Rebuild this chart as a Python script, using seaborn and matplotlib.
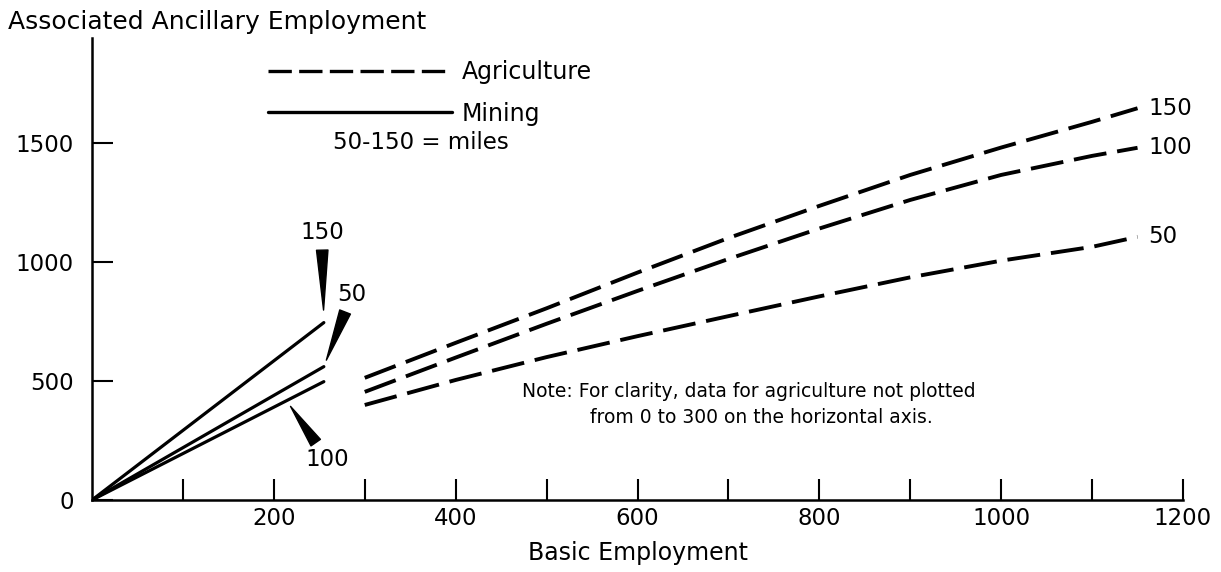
import numpy as np
import pandas as pd
import matplotlib
matplotlib.use("Agg")
import matplotlib.pyplot as plt
from matplotlib.lines import Line2D
import seaborn as sns

# mining: straight runs out of the origin
mine_x = [0, 255]
mine_50 = [0, 560]
mine_100 = [0, 497]
mine_150 = [0, 745]

# agriculture: not plotted below 300
agri_x = [300, 400, 500, 600, 700, 800, 900, 1000, 1100, 1150]
agri_50 = [399, 504, 600, 688, 772, 855, 935, 1005, 1063, 1105]
agri_100 = [454, 598, 740, 878, 1012, 1140, 1260, 1365, 1445, 1479]
agri_150 = [513, 660, 805, 955, 1100, 1235, 1365, 1480, 1588, 1645]

miles = ["50", "100", "150"]
x_ticks = list(range(100, 1300, 100))
x_labels = [str(t) if t % 200 == 0 else "" for t in x_ticks]
y_ticks = [0, 500, 1000, 1500]

rows = []
for m, ys in zip(miles, [mine_50, mine_100, mine_150]):
    for x, y in zip(mine_x, ys):
        rows.append(("Mining", m, x, y))
for m, ys in zip(miles, [agri_50, agri_100, agri_150]):
    for x, y in zip(agri_x, ys):
        rows.append(("Agriculture", m, x, y))
df = pd.DataFrame(rows, columns=["sector", "miles", "basic", "ancillary"])

sns.set_theme(style="white")
plt.rcParams["font.family"] = ["DejaVu Sans"]
plt.rcParams["text.color"] = "black"

fig = plt.figure(figsize=(12.21, 5.72), dpi=100)
ax = fig.add_axes([92 / 1221, 72 / 572, 1091 / 1221, 462 / 572])

sns.lineplot(data=df[df.sector == "Mining"], x="basic", y="ancillary", units="miles",
             estimator=None, color="black", lw=2.3, legend=False, ax=ax)
sns.lineplot(data=df[df.sector == "Agriculture"], x="basic", y="ancillary", units="miles",
             estimator=None, color="black", lw=2.8, linestyle=(0, (8.5, 2.8)),
             legend=False, ax=ax)

ax.set_xlim(0, 1200)
ax.set_ylim(0, 1940)
ax.set_xticks(x_ticks)
ax.set_xticklabels(x_labels)
ax.set_yticks(y_ticks)
ax.set_yticklabels([str(t) for t in y_ticks])
ax.tick_params(axis="both", direction="in", length=15, width=1.5, color="black",
               labelsize=16.5, labelcolor="black", bottom=True, left=True)
ax.tick_params(axis="x", pad=5)
ax.tick_params(axis="y", pad=13)
for s in ["top", "right"]:
    ax.spines[s].set_visible(False)
for s in ["left", "bottom"]:
    ax.spines[s].set_color("black")
    ax.spines[s].set_linewidth(1.8)
ax.set_xlabel("Basic Employment", fontsize=17, color="black", labelpad=8)
ax.set_ylabel("")

fig.text(8 / 1221, 1 - 22 / 572, "Associated Ancillary Employment", ha="left", va="center",
         fontsize=18, color="black")

# end labels on the agriculture curves
for m, ys in zip(miles, [agri_50, agri_100, agri_150]):
    ax.annotate(m, xy=(agri_x[-1], ys[-1]), xytext=(11, 0), textcoords="offset pixels",
                ha="left", va="center", fontsize=16.5, color="black")

# wedge pointers on the mining lines
wedge = dict(arrowstyle="wedge,tail_width=0.5,shrink_factor=0.5", color="black")
ax.annotate("150", xy=(mine_x[-1], mine_150[-1]), xytext=(-2, 90), textcoords="offset pixels",
            ha="center", va="center", fontsize=16.5, color="black",
            arrowprops=dict(wedge, shrinkA=2, shrinkB=9))
ax.annotate("50", xy=(mine_x[-1], mine_50[-1]), xytext=(28, 72), textcoords="offset pixels",
            ha="center", va="center", fontsize=16.5, color="black",
            arrowprops=dict(wedge, shrinkA=2, shrinkB=5))
x100 = 214
ax.annotate("100", xy=(x100, np.interp(x100, mine_x, mine_100)), xytext=(41, -59),
            textcoords="offset pixels", ha="center", va="center", fontsize=16.5,
            color="black", arrowprops=dict(wedge, shrinkA=2, shrinkB=5))

handles = [Line2D([], [], color="black", lw=2.4, linestyle=(0, (7, 2.2))),
           Line2D([], [], color="black", lw=2.4)]
ax.legend(handles, ["Agriculture", "Mining"], loc="upper left",
          bbox_to_anchor=(268 / 1221, 1 - 60 / 572), bbox_transform=fig.transFigure,
          frameon=False, fontsize=17, handlelength=7.8, handletextpad=0.4,
          labelspacing=0.75, borderpad=0, borderaxespad=0, labelcolor="black")
ax.text(265, 1500, "50-150 = miles", ha="left", va="center", fontsize=16.5, color="black")

ax.text(473, 454, "Note: For clarity, data for agriculture not plotted", ha="left",
        va="center", fontsize=13.5, color="black")
ax.text(548, 345, "from 0 to 300 on the horizontal axis.", ha="left", va="center",
        fontsize=13.5, color="black")

fig.savefig("out.png", dpi=100)
